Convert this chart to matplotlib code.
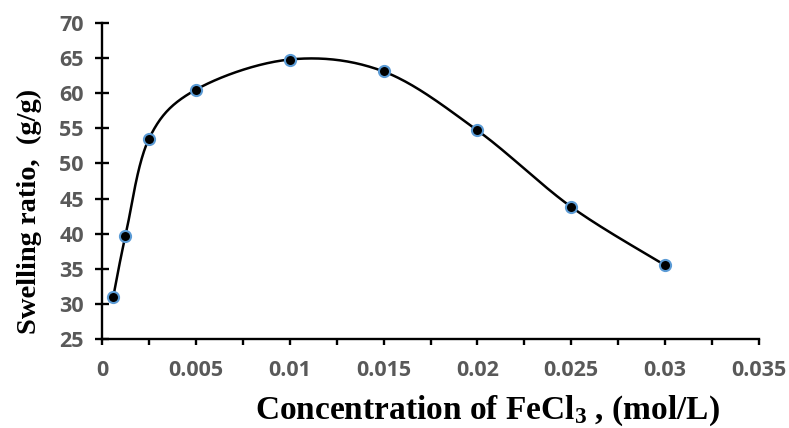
import numpy as np
import matplotlib
matplotlib.use("Agg")
import matplotlib.pyplot as plt
from matplotlib.ticker import MultipleLocator

# FeCl3 concentration (mol/L) vs swelling ratio (g/g)
conc = [0.0006, 0.00125, 0.0025, 0.005, 0.01, 0.015, 0.02, 0.025, 0.03]
swelling = [31.0, 39.7, 53.5, 60.5, 64.8, 63.1, 54.7, 43.8, 35.5]

x_ticks = [0, 0.005, 0.01, 0.015, 0.02, 0.025, 0.03, 0.035]
x_tick_labels = ["0", "0.005", "0.01", "0.015", "0.02", "0.025", "0.03", "0.035"]
y_ticks = [25, 30, 35, 40, 45, 50, 55, 60, 65, 70]

plt.rcParams['mathtext.fontset'] = 'custom'
plt.rcParams['mathtext.rm'] = 'Liberation Serif:bold'
plt.rcParams['mathtext.it'] = 'Liberation Serif:bold'
plt.rcParams['mathtext.bf'] = 'Liberation Serif:bold'


def smooth_curve(xs, ys, n=40):
	# Excel-like smoothed line: Catmull-Rom through the points as cubic Beziers
	p = np.column_stack([xs, ys]).astype(float)
	p = np.vstack([p[0], p, p[-1]])
	out = []
	t = np.linspace(0, 1, n)[:, None]
	for i in range(1, len(p) - 2):
		p0, p1, p2, p3 = p[i - 1], p[i], p[i + 1], p[i + 2]
		c1 = p1 + (p2 - p0) / 6.0
		c2 = p2 - (p3 - p1) / 6.0
		seg = ((1 - t) ** 3) * p1 + 3 * ((1 - t) ** 2) * t * c1 + 3 * (1 - t) * t ** 2 * c2 + t ** 3 * p2
		out.append(seg if i == 1 else seg[1:])
	out = np.vstack(out)
	return out[:, 0], out[:, 1]


fig = plt.figure(figsize=(7.89, 4.28), dpi=100)
ax = fig.add_axes([102 / 789, 1 - 339 / 428, 657 / 789, 316 / 428])

sx, sy = smooth_curve(conc, swelling)
ax.plot(sx, sy, color='black', lw=1.8, zorder=2)
ax.plot(conc, swelling, linestyle='none', marker='o', ms=8,
		markerfacecolor='black', markeredgecolor='#5B9BD5', markeredgewidth=1.5, zorder=3)

ax.set_xlim(0, 0.035)
ax.set_ylim(25, 70)
ax.set_xticks(x_ticks)
ax.set_xticklabels(x_tick_labels)
ax.xaxis.set_minor_locator(MultipleLocator(0.0025))
ax.set_yticks(y_ticks)

for s in ['top', 'right']:
	ax.spines[s].set_visible(False)
for s in ['left', 'bottom']:
	ax.spines[s].set_linewidth(1.7)
	ax.spines[s].set_color('black')

ax.tick_params(axis='y', which='major', direction='inout', length=10, width=1.7, pad=8)
ax.tick_params(axis='x', which='both', direction='out', length=4, width=1.7, pad=11)

for lab in ax.get_xticklabels() + ax.get_yticklabels():
	lab.set_fontfamily('Open Sans')
	lab.set_fontweight('bold')
	lab.set_fontsize(15.5)
	lab.set_color('#595959')

fig.text(487 / 789, 1 - 411 / 428, r'Concentration of FeCl$_{3}$ , (mol/L)',
		 family='Liberation Serif', weight='bold', fontsize=24, ha='center', va='center')
fig.text(29 / 789, 1 - 211 / 428, 'Swelling ratio,  (g/g)',
		 family='Liberation Serif', weight='bold', fontsize=20.5, rotation=90, ha='center', va='center')

fig.savefig('out.png', dpi=100)
